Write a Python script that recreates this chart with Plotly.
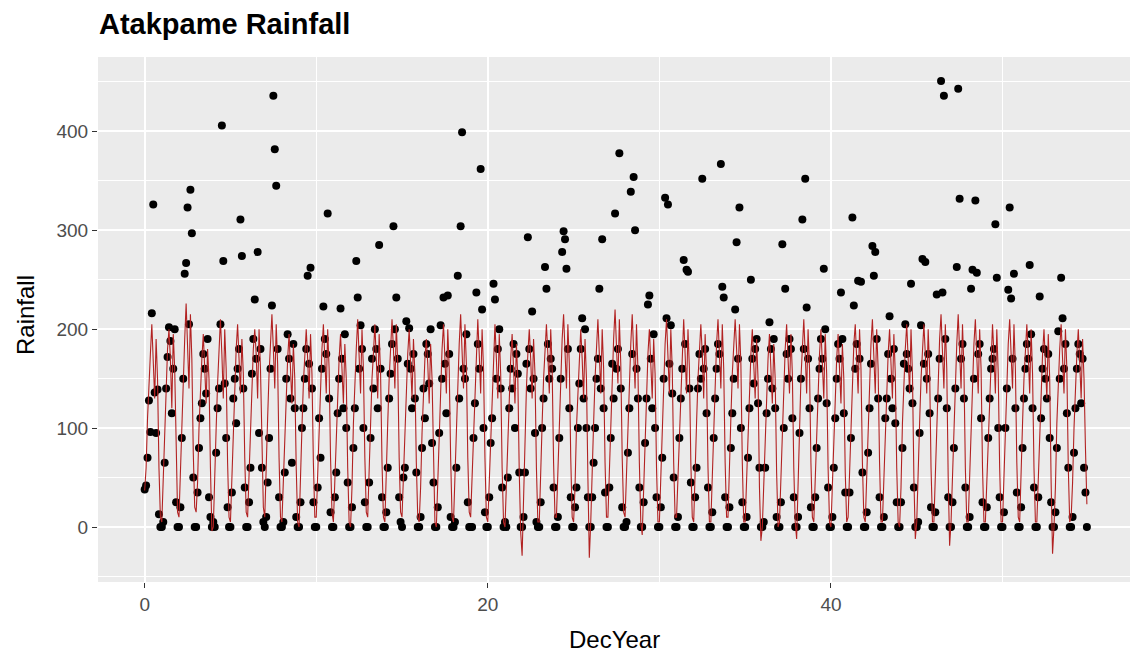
import numpy as np
import plotly.graph_objects as go

title_text = "Atakpame Rainfall"
x_title = "DecYear"
y_title = "Rainfall"
x_ticks = [0, 20, 40]
y_ticks = [0, 100, 200, 300, 400]

rain = [
    [38, 42, 70, 128, 96, 216, 326, 136, 95, 139, 13, 0],
    [0, 5, 65, 140, 172, 202, 188, 115, 160, 200, 25, 0],
    [0, 20, 90, 150, 256, 267, 323, 205, 341, 297, 50, 0],
    [0, 35, 80, 110, 125, 175, 160, 135, 190, 30, 10, 0],
    [5, 0, 75, 120, 140, 205, 406, 269, 145, 90, 20, 0],
    [0, 35, 130, 150, 105, 160, 180, 311, 274, 140, 40, 0],
    [0, 25, 60, 155, 190, 230, 170, 278, 95, 180, 60, 5],
    [0, 10, 45, 90, 160, 224, 436, 382, 345, 180, 30, 0],
    [0, 5, 55, 150, 195, 170, 130, 65, 185, 120, 10, 0],
    [0, 25, 100, 120, 150, 180, 254, 165, 262, 140, 25, 0],
    [0, 40, 110, 70, 160, 223, 190, 175, 317, 130, 15, 0],
    [0, 30, 55, 115, 150, 221, 170, 120, 195, 100, 45, 0],
    [0, 20, 80, 120, 269, 232, 160, 204, 180, 100, 25, 0],
    [0, 45, 90, 170, 140, 200, 180, 120, 285, 160, 30, 0],
    [0, 15, 60, 130, 155, 185, 304, 200, 232, 170, 30, 5],
    [0, 50, 60, 208, 165, 201, 160, 120, 175, 130, 55, 0],
    [0, 10, 80, 140, 110, 185, 175, 145, 200, 85, 45, 0],
    [0, 20, 95, 204, 150, 232, 165, 115, 234, 175, 10, 0],
    [0, 5, 60, 254, 130, 304, 399, 160, 150, 195, 25, 0],
    [0, 0, 90, 125, 237, 185, 160, 362, 220, 100, 15, 0],
    [0, 30, 85, 110, 246, 230, 150, 180, 200, 140, 40, 0],
    [5, 0, 50, 120, 160, 140, 185, 100, 175, 155, 55, 0],
    [0, 10, 55, 165, 293, 180, 140, 218, 150, 95, 5, 0],
    [0, 25, 100, 130, 263, 241, 185, 150, 170, 160, 40, 0],
    [0, 10, 90, 150, 278, 299, 291, 261, 180, 120, 30, 0],
    [0, 20, 40, 100, 145, 180, 211, 130, 200, 100, 30, 0],
    [0, 30, 65, 100, 150, 170, 241, 140, 291, 120, 35, 0],
    [0, 40, 90, 165, 130, 317, 160, 180, 378, 140, 20, 0],
    [0, 5, 75, 120, 339, 175, 354, 300, 160, 130, 40, 0],
    [0, 25, 85, 130, 225, 234, 170, 120, 195, 100, 30, 0],
    [0, 20, 70, 150, 333, 211, 326, 165, 204, 135, 50, 0],
    [0, 10, 90, 130, 160, 270, 185, 260, 258, 140, 45, 0],
    [0, 30, 60, 140, 175, 150, 352, 160, 180, 115, 40, 0],
    [0, 15, 90, 130, 160, 185, 175, 367, 243, 232, 30, 0],
    [0, 20, 80, 115, 150, 220, 288, 170, 323, 100, 25, 0],
    [0, 10, 70, 120, 250, 170, 145, 180, 190, 125, 60, 0],
    [0, 5, 60, 115, 150, 207, 180, 140, 190, 120, 10, 0],
    [0, 25, 286, 100, 241, 175, 150, 190, 180, 110, 30, 0],
    [0, 10, 95, 150, 311, 180, 352, 222, 170, 120, 20, 0],
    [0, 30, 80, 130, 160, 190, 170, 261, 200, 125, 40, 0],
    [0, 10, 60, 110, 150, 185, 170, 237, 190, 115, 35, 0],
    [0, 35, 90, 313, 224, 160, 185, 249, 170, 248, 55, 0],
    [0, 15, 75, 120, 165, 284, 254, 278, 190, 130, 30, 0],
    [0, 10, 110, 130, 175, 213, 150, 120, 180, 105, 25, 0],
    [0, 25, 80, 165, 205, 175, 160, 140, 246, 125, 40, 0],
    [0, 5, 95, 204, 271, 165, 268, 150, 175, 115, 20, 0],
    [0, 15, 235, 130, 170, 451, 237, 436, 190, 120, 30, 0],
    [0, 25, 80, 140, 263, 443, 332, 170, 185, 130, 40, 0],
    [0, 10, 241, 260, 150, 330, 257, 175, 185, 110, 25, 0],
    [0, 20, 90, 130, 160, 170, 180, 306, 252, 100, 30, 0],
    [0, 15, 100, 140, 240, 323, 231, 170, 256, 120, 35, 0],
    [0, 20, 80, 130, 160, 185, 170, 265, 195, 120, 40, 0],
    [0, 30, 233, 110, 160, 180, 150, 130, 175, 90, 25, 0],
    [0, 15, 80, 198, 150, 252, 211, 160, 185, 115, 60, 0],
    [0, 10, 75, 120, 160, 185, 175, 125, 170, 60, 35, 0],
]

# Fitted model values (red line), one row per year (Jan..Dec)
fitted = [
    [37, 60, 110, 150, 175, 205, 165, 130, 190, 150, 60, 10],
    [5, 50, 105, 145, 180, 200, 170, 120, 195, 160, 70, 15],
    [10, 55, 115, 160, 190, 226, 180, 140, 215, 170, 75, 20],
    [15, 45, 100, 140, 170, 195, 165, 125, 180, 150, 60, -4],
    [0, 40, 100, 145, 175, 210, 175, 130, 200, 160, 65, 10],
    [5, 50, 110, 150, 180, 205, 170, 135, 190, 155, 70, 15],
    [10, 55, 105, 150, 180, 200, 175, 130, 200, 160, 75, 20],
    [10, 50, 110, 155, 185, 215, 180, 140, 205, 165, 70, 10],
    [5, 45, 100, 140, 170, 195, 165, 125, 185, 150, 60, 5],
    [0, 40, 100, 145, 175, 200, 170, 130, 195, 155, 65, 10],
    [10, 50, 105, 150, 180, 205, 175, 135, 200, 160, 70, 15],
    [5, 45, 100, 140, 170, 195, 165, 125, 185, 150, 60, 5],
    [0, 40, 105, 150, 180, 210, 175, 135, 200, 160, 70, 15],
    [10, 55, 110, 150, 175, 205, 170, 130, 195, 155, 65, 10],
    [5, 45, 105, 150, 180, 210, 180, 140, 205, 165, 70, 15],
    [10, 50, 105, 145, 175, 200, 170, 130, 190, 155, 65, 10],
    [5, 40, 95, 140, 170, 190, 165, 125, 185, 150, 60, 5],
    [0, 45, 105, 150, 180, 205, 175, 135, 200, 160, 70, 10],
    [5, 50, 110, 155, 185, 215, 180, 140, 205, 165, 70, 15],
    [10, 50, 110, 150, 180, 210, 175, 135, 200, 160, 70, 10],
    [5, 45, 105, 145, 175, 205, 170, 130, 195, 155, 60, 5],
    [0, 40, 100, 140, 170, 195, 165, 125, 185, 150, 55, -5],
    [-29, 30, 95, 140, 175, 200, 170, 130, 190, 155, 60, 5],
    [5, 45, 105, 150, 180, 205, 175, 135, 200, 160, 65, 10],
    [10, 55, 115, 160, 190, 215, 180, 140, 205, 165, 70, 10],
    [5, 40, 100, 140, 170, 200, 170, 130, 190, 150, 50, -31],
    [5, 45, 105, 150, 180, 210, 175, 135, 200, 160, 65, 10],
    [10, 55, 115, 160, 190, 220, 185, 145, 210, 165, 70, 15],
    [10, 55, 110, 155, 185, 215, 180, 140, 205, 160, 65, 5],
    [-8, 40, 100, 145, 175, 200, 170, 130, 190, 155, 60, 5],
    [5, 50, 110, 155, 185, 210, 175, 135, 200, 160, 65, 10],
    [10, 50, 110, 150, 180, 210, 175, 135, 200, 160, 65, 10],
    [5, 45, 105, 150, 180, 205, 175, 130, 195, 155, 60, 5],
    [5, 50, 110, 155, 185, 210, 180, 140, 205, 160, 65, 10],
    [10, 50, 110, 155, 185, 210, 180, 140, 205, 165, 65, 5],
    [5, 45, 100, 145, 175, 200, 170, 130, 190, 150, 40, -14],
    [0, 40, 100, 140, 170, 195, 165, 125, 185, 150, 55, 0],
    [5, 50, 105, 150, 180, 205, 175, 135, 195, 155, 60, 5],
    [-12, 40, 105, 150, 180, 210, 175, 135, 200, 160, 65, 10],
    [5, 45, 105, 145, 175, 200, 170, 130, 195, 155, 60, 5],
    [0, 40, 100, 140, 170, 195, 165, 125, 185, 150, 55, 5],
    [10, 55, 110, 155, 185, 205, 175, 135, 200, 160, 65, 10],
    [5, 50, 110, 155, 185, 210, 175, 135, 200, 160, 65, 5],
    [5, 45, 105, 145, 175, 200, 170, 130, 195, 155, 60, 5],
    [0, 40, 105, 150, 180, 205, 175, 135, 200, 155, 50, -12],
    [5, 45, 105, 150, 180, 205, 175, 135, 200, 160, 60, 5],
    [5, 50, 110, 160, 190, 215, 180, 140, 205, 160, 50, -19],
    [5, 50, 110, 155, 185, 215, 180, 140, 205, 160, 60, 5],
    [5, 50, 110, 155, 185, 210, 175, 135, 200, 160, 60, 5],
    [5, 45, 105, 145, 175, 205, 175, 135, 200, 155, 60, 5],
    [5, 50, 110, 155, 185, 210, 180, 140, 205, 160, 65, 10],
    [5, 45, 105, 150, 180, 205, 175, 135, 200, 155, 60, 5],
    [5, 45, 105, 145, 175, 200, 170, 130, 195, 150, 45, -27],
    [0, 40, 105, 150, 180, 205, 175, 135, 200, 160, 60, 5],
    [10, 45, 100, 145, 175, 200, 170, 130, 190, 150, 80, 23],
]

assert all(len(r) == 12 for r in rain) and all(len(r) == 12 for r in fitted)

n_years = len(rain)
dec_year = np.array([y + m / 12.0 for y in range(n_years) for m in range(12)])
rain_flat = np.array(rain, dtype=float).ravel()
fit_flat = np.array(fitted, dtype=float).ravel()

FONT = "Liberation Sans, Arial, sans-serif"

fig = go.Figure()
fig.add_trace(go.Scatter(
    x=dec_year, y=rain_flat, mode="markers",
    marker=dict(color="black", size=8, line=dict(width=0)),
    showlegend=False, hoverinfo="x+y",
))
fig.add_trace(go.Scatter(
    x=dec_year, y=fit_flat, mode="lines",
    line=dict(color="#B22222", width=1.1),
    showlegend=False, hoverinfo="x+y",
))

L, R, T, B = 98, 2, 57, 73
W, H = 1132, 655
pw, ph = W - L - R, H - T - B

axis_common = dict(
    showline=False, zeroline=False, showgrid=True,
    gridcolor="white", gridwidth=1.6,
    ticks="outside", ticklen=5, tickwidth=1.3, tickcolor="#333333",
    tickfont=dict(family=FONT, size=19, color="#4D4D4D"),
)

fig.update_layout(
    width=W, height=H,
    margin=dict(l=L, r=R, t=T, b=B, pad=0),
    paper_bgcolor="white", plot_bgcolor="#EBEBEB",
    xaxis=dict(range=[-2.72, 57.43], tickmode="array", tickvals=x_ticks,
               ticktext=[str(v) for v in x_ticks],
               minor=dict(tickmode="array", tickvals=[-10, 10, 30, 50], showgrid=True,
                          gridcolor="white", gridwidth=0.7),
               **axis_common),
    yaxis=dict(range=[-55.6, 475.2], tickmode="array", tickvals=y_ticks,
               ticktext=[str(v) for v in y_ticks],
               minor=dict(tickmode="array", tickvals=[-50, 50, 150, 250, 350, 450], showgrid=True,
                          gridcolor="white", gridwidth=0.7),
               **axis_common),
    annotations=[
        dict(text=f"<b>{title_text}</b>", xref="paper", yref="paper",
             x=-1 / pw, y=1 + (T - 24) / ph, xanchor="left", yanchor="middle",
             showarrow=False, font=dict(family=FONT, size=29, color="black")),
        dict(text=x_title, xref="paper", yref="paper",
             x=0.5, y=-(639 - (T + ph)) / ph, xanchor="center", yanchor="middle",
             showarrow=False, font=dict(family=FONT, size=24, color="black")),
        dict(text=y_title, xref="paper", yref="paper",
             x=-(L - 25) / pw, y=0.5 + (319.5 - 315) / ph, xanchor="center", yanchor="middle",
             textangle=-90, showarrow=False, font=dict(family=FONT, size=24, color="black")),
    ],
)

fig.write_html("out.html")
